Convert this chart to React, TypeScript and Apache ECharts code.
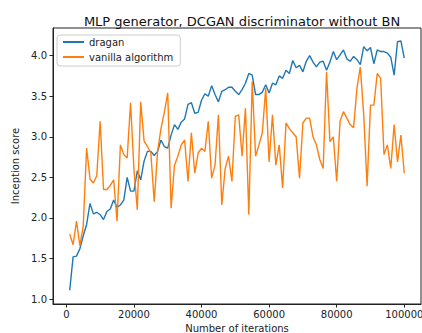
import React, { useEffect, useRef } from "react";
import * as echarts from "echarts";

const TITLE = "MLP generator, DCGAN discriminator without BN";
const X_NAME = "Number of iterations";
const Y_NAME = "Inception score";
const SERIES_NAMES = ["dragan", "vanilla algorithm"];
const X_TICKS = [0, 20000, 40000, 60000, 80000, 100000];
const Y_TICKS = [1.0, 1.5, 2.0, 2.5, 3.0, 3.5, 4.0];

// iterations sampled every 1000 steps, 1000 .. 100000
const ITERATIONS = Array.from({ length: 100 }, (_, i) => (i + 1) * 1000);

const DRAGAN = [
  1.11, 1.52, 1.53, 1.62, 1.78, 1.92, 2.18, 2.05, 2.07, 2.04,
  1.98, 2.08, 2.11, 2.22, 2.13, 2.16, 2.22, 2.5, 2.33, 2.33,
  2.58, 2.47, 2.7, 2.82, 2.82, 2.77, 2.82, 2.96, 2.88, 2.86,
  3.02, 3.15, 3.09, 3.18, 3.22, 3.4, 3.42, 3.29, 3.3, 3.45,
  3.53, 3.5, 3.63, 3.52, 3.43, 3.56, 3.58, 3.61, 3.61, 3.56,
  3.52, 3.58, 3.66, 3.78, 3.76, 3.52, 3.52, 3.55, 3.64, 3.54,
  3.66, 3.64, 3.75, 3.72, 3.82, 3.78, 3.94, 3.85, 3.88, 3.8,
  3.93, 4.0, 3.92, 3.86, 3.92, 3.93, 3.82, 3.92, 4.05, 3.95,
  4.01, 4.07, 3.96, 3.93, 3.99, 3.95, 3.89, 4.11, 4.06, 4.1,
  3.9, 4.07, 4.05, 4.05, 4.03, 3.98, 3.76, 4.17, 4.18, 3.97,
];

const VANILLA = [
  1.8, 1.67, 1.96, 1.66, 1.9, 2.86, 2.48, 2.43, 2.52, 3.19,
  2.35, 2.35, 2.4, 2.47, 1.96, 2.9, 2.78, 2.74, 3.42, 2.6,
  2.1, 3.43, 2.95, 2.88, 2.8, 2.2, 2.82, 3.1, 3.3, 3.54,
  2.12, 2.65, 2.76, 2.9, 2.96, 2.45, 3.05, 2.55, 2.8, 2.86,
  2.82, 3.19, 2.49, 2.65, 3.27, 2.16, 2.61, 2.76, 2.45, 3.25,
  3.27, 2.76, 3.35, 2.04, 3.68, 2.76, 2.9, 3.05, 3.6, 2.69,
  3.27, 2.65, 2.9, 2.37, 3.17, 3.1, 3.05, 3.0, 2.49, 3.17,
  3.23, 3.23, 3.0, 2.9, 2.72, 2.61, 3.8, 2.94, 3.0, 2.45,
  3.19, 3.31, 3.23, 3.15, 3.11, 3.6, 3.86, 3.27, 2.39, 3.39,
  3.39, 3.78, 3.72, 2.78, 2.9, 2.61, 3.15, 2.69, 3.02, 2.55,
];

const COLORS = ["#1f77b4", "#ff7f0e"];
const FONT = "DejaVu Sans";

export default function App() {
  const ref = useRef<HTMLDivElement>(null);

  useEffect(() => {
    document.body.style.margin = "0";
    if (!ref.current) return;
    const chart = echarts.init(ref.current, undefined, { renderer: "svg" });
    const mk = (vals: number[]) => ITERATIONS.map((x, i) => [x, vals[i]]);
    chart.setOption({
      animation: false,
      backgroundColor: "#fff",
      textStyle: { fontFamily: FONT },
      title: {
        text: TITLE,
        left: 237,
        textAlign: "center",
        top: 10,
        textStyle: { fontFamily: FONT, fontSize: 13, fontWeight: "normal", color: "#111" },
      },
      legend: {
        orient: "vertical",
        left: 57,
        top: 35,
        padding: [2, 7, 4, 5],
        itemWidth: 21,
        itemHeight: 10,
        itemGap: 5,
        borderColor: "#ccc",
        borderWidth: 1,
        borderRadius: 3,
        backgroundColor: "#fff",
        itemStyle: { opacity: 0 },
        textStyle: { fontFamily: FONT, fontSize: 10, color: "#222" },
        data: SERIES_NAMES,
      },
      grid: {
        left: 53,
        top: 28,
        width: 368,
        height: 276,
        show: true,
        borderColor: "#222",
        borderWidth: 1,
        outerBoundsMode: "none",
        containLabel: false,
      },
      xAxis: {
        type: "value",
        min: -3950,
        max: 104950,
        name: X_NAME,
        nameLocation: "middle",
        nameGap: 16,
        nameTextStyle: { fontFamily: FONT, fontSize: 10, color: "#222" },
        axisLine: { show: true, onZero: false, lineStyle: { color: "#222", width: 1 } },
        axisTick: { show: true, length: 3.5, customValues: X_TICKS, lineStyle: { color: "#222" } },
        axisLabel: {
          customValues: X_TICKS,
          formatter: (v: number) => String(v),
          fontFamily: FONT,
          fontSize: 10,
          color: "#222",
          margin: 5,
        },
        splitLine: { show: false },
      },
      yAxis: {
        type: "value",
        min: 0.94,
        max: 4.34,
        name: Y_NAME,
        nameLocation: "middle",
        nameGap: 30,
        nameTextStyle: { fontFamily: FONT, fontSize: 10, color: "#222" },
        axisLine: { show: true, onZero: false, lineStyle: { color: "#222", width: 1 } },
        axisTick: { show: true, length: 3.5, customValues: Y_TICKS, lineStyle: { color: "#222" } },
        axisLabel: {
          customValues: Y_TICKS,
          formatter: (v: number) => v.toFixed(1),
          fontFamily: FONT,
          fontSize: 10,
          color: "#222",
          margin: 6,
        },
        splitLine: { show: false },
      },
      series: [
        {
          name: SERIES_NAMES[0],
          type: "line",
          data: mk(DRAGAN),
          symbol: "none",
          color: COLORS[0],
          lineStyle: { width: 1.4, color: COLORS[0] },
          z: 2,
        },
        {
          name: SERIES_NAMES[1],
          type: "line",
          data: mk(VANILLA),
          symbol: "none",
          color: COLORS[1],
          lineStyle: { width: 1.4, color: COLORS[1] },
          z: 3,
        },
      ],
    });
    return () => chart.dispose();
  }, []);

  return <div ref={ref} style={{ width: 422, height: 333 }} />;
}
